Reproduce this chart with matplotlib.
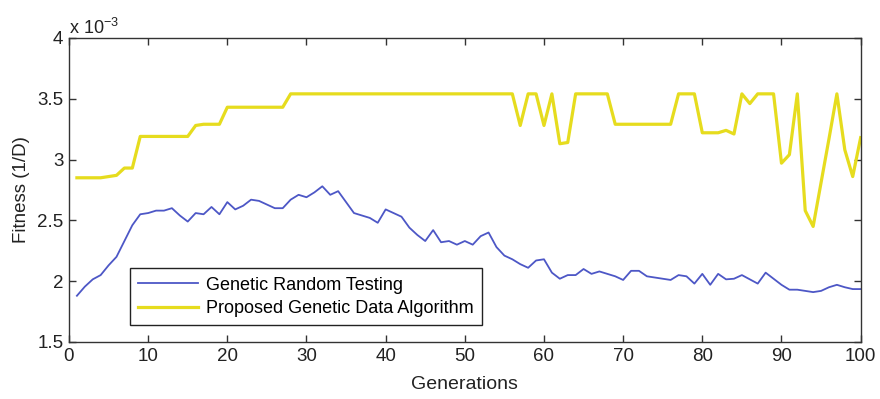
import matplotlib
matplotlib.use("Agg")
import matplotlib.pyplot as plt
import numpy as np
from matplotlib.ticker import ScalarFormatter

# fitness per generation, in units of 1e-3
generations = list(range(1, 101))

random_testing = [
    1.88, 1.955, 2.015, 2.05, 2.13, 2.20, 2.33, 2.46, 2.55, 2.56,
    2.58, 2.58, 2.60, 2.54, 2.49, 2.56, 2.55, 2.61, 2.55, 2.65,
    2.59, 2.62, 2.67, 2.66, 2.63, 2.60, 2.60, 2.67, 2.71, 2.69,
    2.73, 2.78, 2.71, 2.74, 2.65, 2.56, 2.54, 2.52, 2.48, 2.59,
    2.56, 2.53, 2.44, 2.38, 2.33, 2.42, 2.32, 2.33, 2.30, 2.33,
    2.30, 2.37, 2.40, 2.28, 2.21, 2.18, 2.14, 2.11, 2.17, 2.18,
    2.07, 2.02, 2.05, 2.05, 2.10, 2.06, 2.08, 2.06, 2.04, 2.01,
    2.085, 2.085, 2.04, 2.03, 2.02, 2.01, 2.05, 2.04, 1.98, 2.06,
    1.97, 2.06, 2.015, 2.02, 2.05, 2.015, 1.98, 2.07, 2.02, 1.97,
    1.93, 1.93, 1.92, 1.91, 1.92, 1.95, 1.97, 1.95, 1.935, 1.935,
]

genetic_data = [
    2.85, 2.85, 2.85, 2.85, 2.86, 2.87, 2.93, 2.93, 3.19, 3.19,
    3.19, 3.19, 3.19, 3.19, 3.19, 3.28, 3.29, 3.29, 3.29, 3.43,
    3.43, 3.43, 3.43, 3.43, 3.43, 3.43, 3.43, 3.54, 3.54, 3.54,
    3.54, 3.54, 3.54, 3.54, 3.54, 3.54, 3.54, 3.54, 3.54, 3.54,
    3.54, 3.54, 3.54, 3.54, 3.54, 3.54, 3.54, 3.54, 3.54, 3.54,
    3.54, 3.54, 3.54, 3.54, 3.54, 3.54, 3.28, 3.54, 3.54, 3.28,
    3.54, 3.13, 3.14, 3.54, 3.54, 3.54, 3.54, 3.54, 3.29, 3.29,
    3.29, 3.29, 3.29, 3.29, 3.29, 3.29, 3.54, 3.54, 3.54, 3.22,
    3.22, 3.22, 3.24, 3.21, 3.54, 3.46, 3.54, 3.54, 3.54, 2.97,
    3.04, 3.54, 2.58, 2.45, 2.81, 3.17, 3.54, 3.08, 2.86, 3.18,
]

labels = ["Genetic Random Testing", "Proposed Genetic Data Algorithm"]


class MatlabFormatter(ScalarFormatter):
    """Tick labels like 3.5 / 4 with an 'x 10^-3' multiplier on top."""

    def __call__(self, x, pos=None):
        return f"{x / 10 ** self.orderOfMagnitude:g}"

    def get_offset(self):
        return r"x 10$^{%d}$" % self.orderOfMagnitude


plt.rcParams["font.family"] = ["Liberation Sans", "DejaVu Sans"]
plt.rcParams["mathtext.fontset"] = "custom"
plt.rcParams["mathtext.rm"] = "Liberation Sans"

fig = plt.figure(figsize=(8.8, 3.99), dpi=100)
ax = fig.add_axes([0.0784, 0.1429, 0.8996, 0.7621])

ax.plot(generations, np.array(random_testing) * 1e-3, color="#4d57c6", lw=1.3, label=labels[0])
ax.plot(generations, np.array(genetic_data) * 1e-3, color="#e6dc1e", lw=2.3, label=labels[1])

ax.set_xlim(0, 100)
ax.set_ylim(1.5e-3, 4e-3)
ax.set_xticks(np.arange(0, 101, 10))
ax.set_yticks(np.arange(1.5e-3, 4.01e-3, 0.5e-3))

fmt = MatlabFormatter()
fmt.set_powerlimits((0, 0))
ax.yaxis.set_major_formatter(fmt)
ax.yaxis.get_offset_text().set_fontsize(13)
ax.yaxis.get_offset_text().set_color("#222222")

ax.tick_params(direction="in", length=5, width=1, top=True, right=True,
               colors="#333333", labelcolor="#222222", labelsize=13.5, pad=4)
for sp in ax.spines.values():
    sp.set_color("#333333")
    sp.set_linewidth(1)

ax.set_xlabel("Generations", fontsize=14, color="#222222", labelpad=8)
ax.set_ylabel("Fitness (1/D)", fontsize=13.5, color="#222222", labelpad=5)

leg = ax.legend(loc="lower left", bbox_to_anchor=(0.077, 0.056), borderaxespad=0,
                fontsize=13, handlelength=3.3, handletextpad=0.45, labelspacing=0.35,
                borderpad=0.45, fancybox=False, framealpha=1)
leg.get_frame().set_edgecolor("#222222")
leg.get_frame().set_linewidth(1)

fig.savefig("out.png", dpi=100)
